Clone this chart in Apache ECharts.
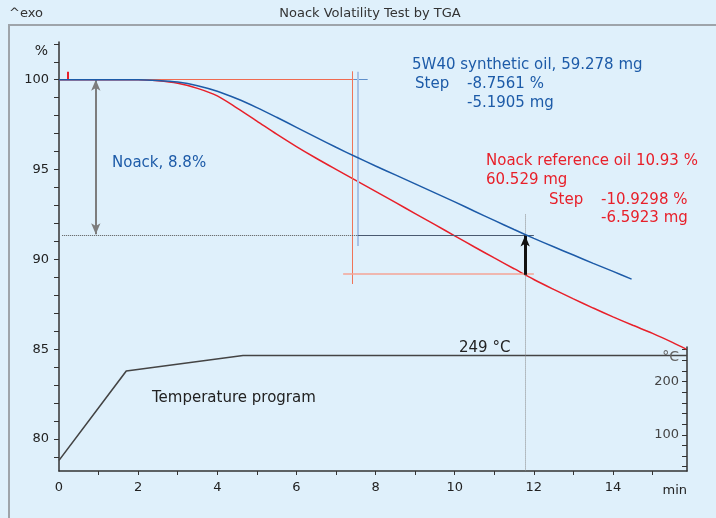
<!DOCTYPE html>
<html>
<head>
<meta charset="utf-8">
<script src="https://cdn.jsdelivr.net/npm/echarts@6/dist/echarts.min.js"></script>
<style>
  html, body { margin: 0; padding: 0; background: #dff0fb; }
  #chart { width: 716px; height: 518px; }
</style>
</head>
<body>
<div id="chart"></div>
<script>
// axis ranges
const timeMax = 15.87;
const massMin = 78.22;
const massMax = 102.1;
const tempMin = 32;
const tempMax = 265;

// ticks and labels
const timeTicks = [1, 2, 3, 4, 5, 6, 7, 8, 9, 10, 11, 12, 13, 14, 15];
const timeLabels = [0, 2, 4, 6, 8, 10, 12, 14];
const massTicks = [79, 80, 81, 82, 83, 84, 85, 86, 87, 88, 89, 90, 91, 92, 93, 94, 95, 96, 97, 98, 99, 100, 101, 102];
const massLabels = [80, 85, 90, 95, 100];
const tempTicks = [40, 60, 80, 100, 120, 140, 160, 180, 200, 220, 240, 260];
const tempLabels = [100, 200];

// TGA curves [min, %]
const synthOil = [
  [0, 100], [1, 100], [2, 100], [2.5, 99.96], [3, 99.87], [3.5, 99.67], [4, 99.36],
  [4.5, 98.94], [5, 98.45], [5.5, 97.91], [6, 97.35], [6.5, 96.79], [7, 96.24],
  [7.5, 95.71], [8, 95.2], [8.5, 94.7], [9, 94.2], [9.5, 93.7], [10, 93.2],
  [10.5, 92.68], [11, 92.17], [11.5, 91.66], [12, 91.17], [12.5, 90.7],
  [13, 90.24], [13.5, 89.78], [14, 89.33], [14.47, 88.9]
];
const refOil = [
  [0, 100], [1, 100], [2, 100], [2.5, 99.94], [3, 99.8], [3.5, 99.52], [4, 99.1],
  [4.5, 98.42], [5, 97.7], [5.5, 96.97], [6, 96.28], [6.5, 95.63], [7, 95.01],
  [7.5, 94.4], [8, 93.79], [8.5, 93.17], [9, 92.55], [9.5, 91.93], [10, 91.31],
  [10.5, 90.69], [11, 90.08], [11.5, 89.48], [12, 88.88], [12.5, 88.33],
  [13, 87.8], [13.5, 87.29], [14, 86.8], [14.5, 86.33], [15, 85.88],
  [15.5, 85.38], [15.85, 85.0]
];
// temperature program [min, °C]
const tempProgram = [[0, 52], [1.7, 220], [4.65, 249], [timeMax, 249]];

// evaluation lines [min, %]
const baseRed = [[0, 100], [7.45, 100]];
const baseBlue = [[7.45, 100], [7.8, 100]];
const onsetRed = [[7.4, 100.47], [7.4, 88.63]];
const onsetBlue = [[7.55, 100.45], [7.55, 90.75]];
const levelRed = [[7.18, 89.18], [12.0, 89.18]];
const levelDotted = [[0.08, 91.33], [7.55, 91.33]];
const levelBlue = [[7.55, 91.33], [12.0, 91.33]];
const evalTime = [[11.78, 92.5], [11.78, massMin]];
const stepArrow = [[11.78, 89.14], [11.78, 91.33]];
const noackArrow = [[0.93, 100], [0.93, 91.4]];
const startFlag = [[0.22, 100], [0.22, 100.45]];

const FONT = '"DejaVu Sans", "Liberation Sans", sans-serif';
const BLUE = '#1d5ba8';
const RED = '#e8202a';

function seg(pts, style, startSym, endSym) {
  return [
    { coord: pts[0], symbol: startSym || 'none', symbolSize: [7, 11] },
    { coord: pts[1], symbol: endSym || 'none', symbolSize: [7, 11], lineStyle: style }
  ];
}

function txt(text, x, y, color, size, align) {
  return {
    type: 'text', x: x, y: y, z: 10,
    style: {
      text: text, fill: color, font: (size || 15) + 'px ' + FONT,
      align: align || 'left', verticalAlign: 'middle'
    }
  };
}

const chart = echarts.init(document.getElementById('chart'));

const tickLabel = { color: '#222', fontSize: 13, fontFamily: FONT };
const axisLine = { show: true, onZero: false, lineStyle: { color: '#333', width: 1.5 } };

const option = {
  animation: false,
  backgroundColor: '#dff0fb',
  grid: [
    { left: 59, right: 29, top: 42, bottom: 47 },
    { left: 59, right: 29, top: 347, bottom: 47 }
  ],
  xAxis: [
    {
      type: 'value', gridIndex: 0, min: 0, max: timeMax,
      axisLine: axisLine,
      axisTick: { show: true, length: 4, customValues: timeTicks, lineStyle: { color: '#333' } },
      axisLabel: Object.assign({ margin: 10, customValues: timeLabels }, tickLabel),
      splitLine: { show: false }
    },
    { type: 'value', gridIndex: 1, min: 0, max: timeMax, show: false }
  ],
  yAxis: [
    {
      type: 'value', gridIndex: 0, min: massMin, max: massMax,
      axisLine: axisLine,
      axisTick: { show: true, length: 5, customValues: massTicks, lineStyle: { color: '#333' } },
      axisLabel: Object.assign({ margin: 10, customValues: massLabels }, tickLabel),
      splitLine: { show: false }
    },
    {
      type: 'value', gridIndex: 1, position: 'right', min: tempMin, max: tempMax,
      axisLine: axisLine,
      axisTick: { show: true, inside: true, length: 5, customValues: tempTicks, lineStyle: { color: '#333' } },
      axisLabel: Object.assign({ inside: true, margin: 8, customValues: tempLabels }, tickLabel, { color: '#444' }),
      splitLine: { show: false }
    }
  ],
  series: [
    {
      name: 'Temperature', type: 'line', xAxisIndex: 1, yAxisIndex: 1,
      data: tempProgram, showSymbol: false, z: 1,
      lineStyle: { color: '#444', width: 1.6 }
    },
    {
      name: 'Evaluation', type: 'line', xAxisIndex: 0, yAxisIndex: 0, data: [], z: 3,
      markLine: {
        silent: true, animation: false,
        label: { show: false },
        data: [
          seg(baseRed, { color: '#f06a50', width: 1, type: 'solid' }),
          seg(baseBlue, { color: '#5f8fca', width: 1, type: 'solid' }),
          seg(onsetBlue, { color: '#a9c3e6', width: 2, type: 'solid' }),
          seg(onsetRed, { color: '#f07458', width: 1, type: 'solid' }),
          seg(levelRed, { color: '#f4a496', width: 1.5, type: 'solid' }),
          seg(levelDotted, { color: '#555', width: 1, type: 'dotted' }),
          seg(levelBlue, { color: '#4a5a70', width: 1, type: 'solid' }),
          seg(evalTime, { color: '#8a8a8a', width: 1, type: 'dotted' }),
          seg(startFlag, { color: RED, width: 2, type: 'solid' })
        ]
      }
    },
    {
      name: 'Noack reference oil', type: 'line', xAxisIndex: 0, yAxisIndex: 0,
      data: refOil, showSymbol: false, smooth: 0.3, z: 4,
      lineStyle: { color: RED, width: 1.5 }
    },
    {
      name: '5W40 synthetic oil', type: 'line', xAxisIndex: 0, yAxisIndex: 0,
      data: synthOil, showSymbol: false, smooth: 0.3, z: 5,
      lineStyle: { color: BLUE, width: 1.5 }
    },
    {
      name: 'Arrows', type: 'line', xAxisIndex: 0, yAxisIndex: 0, data: [], z: 6,
      markLine: {
        silent: true, animation: false,
        label: { show: false },
        data: [
          seg(noackArrow, { color: '#7d7d7d', width: 2, type: 'solid' }, 'arrow', 'arrow'),
          seg(stepArrow, { color: '#111', width: 3, type: 'solid' }, 'none', 'arrow')
        ]
      }
    }
  ],
  graphic: [
    {
      type: 'rect', z: 0, silent: true,
      shape: { x: 9, y: 25, width: 800, height: 600 },
      style: { fill: 'none', stroke: '#9ea4aa', lineWidth: 2 }
    },
    txt('^exo', 9, 14, '#333', 13),
    txt('Noack Volatility Test by TGA', 370, 14, '#333', 13, 'center'),
    txt('%', 48, 51, '#222', 14, 'right'),
    txt('min', 687, 491, '#222', 13, 'right'),
    txt('°C', 679, 357, '#666', 14, 'right'),
    txt('Noack, 8.8%', 112, 163, BLUE, 15),
    txt('5W40 synthetic oil, 59.278 mg', 412, 65, BLUE, 15),
    txt('Step', 415, 84, BLUE, 15),
    txt('-8.7561 %', 467, 84, BLUE, 15),
    txt('-5.1905 mg', 467, 103, BLUE, 15),
    txt('Noack reference oil 10.93 %', 486, 161, RED, 15),
    txt('60.529 mg', 486, 180, RED, 15),
    txt('Step', 549, 200, RED, 15),
    txt('-10.9298 %', 601, 200, RED, 15),
    txt('-6.5923 mg', 601, 218, RED, 15),
    txt('249 °C', 459, 348, '#222', 15),
    txt('Temperature program', 152, 398, '#222', 15)
  ]
};

chart.setOption(option);
</script>
</body>
</html>
